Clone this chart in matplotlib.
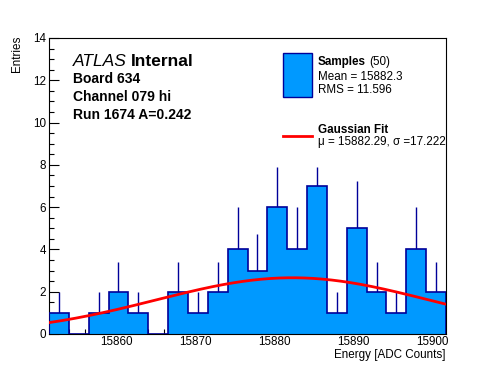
import numpy as np
import matplotlib
matplotlib.use("Agg")
import matplotlib.pyplot as plt
from matplotlib.ticker import MultipleLocator
from matplotlib.patches import Rectangle
from matplotlib.lines import Line2D

# --------------------------
# Data
# --------------------------
bin_lo = 15851.5
bin_width = 2.51
counts = [1, 0, 1, 2, 1, 0, 2, 1, 2, 4, 3, 6, 4, 7, 1, 5, 2, 1, 4, 2]
# top end of each error bar as drawn (0 = no bar)
err_top = [2, 0, 2, 3.4, 2, 0, 3.4, 2, 3.4, 6, 4.73, 7.9, 6, 7.9, 2, 7.25, 3.4, 2, 6, 3.4]

fit_mu = 15882.29
fit_sigma = 17.222
fit_amp = 2.66

info_lines = ["Board 634", "Channel 079 hi", "Run 1674 A=0.242"]
stats_lines = ["Mean = 15882.3", "RMS = 11.596"]
fit_label = "\u03bc = 15882.29, \u03c3 =17.222"

fill_col = "#0099ff"
edge_col = "#000099"

plt.rcParams['font.family'] = ['Liberation Sans', 'DejaVu Sans']

counts = np.array(counts, dtype=float)
err_top = np.array(err_top, dtype=float)
edges = bin_lo + bin_width * np.arange(len(counts) + 1)
centers = 0.5 * (edges[:-1] + edges[1:])

fig = plt.figure(figsize=(4.96, 3.72), dpi=100)
ax = fig.add_axes([49/496, 38/372, 397/496, 296/372])

# error bars sit behind the filled histogram, so only the upper part shows
nz = counts > 0
ax.vlines(centers[nz], 0, err_top[nz], color=edge_col, lw=1, zorder=1)
ax.stairs(counts, edges, fill=True, color=fill_col, zorder=2)
ax.stairs(counts, edges, color=edge_col, lw=1.2, zorder=3)

# gaussian fit
xs = np.linspace(edges[0], edges[-1], 300)
ax.plot(xs, fit_amp * np.exp(-0.5 * ((xs - fit_mu) / fit_sigma) ** 2),
        color='red', lw=2, zorder=4)

ax.set_xlim(edges[0], edges[-1])
ax.set_ylim(0, 14)
ax.xaxis.set_major_locator(MultipleLocator(10))
ax.xaxis.set_minor_locator(MultipleLocator(2))
ax.yaxis.set_major_locator(MultipleLocator(2))
ax.yaxis.set_minor_locator(MultipleLocator(0.5))
ax.tick_params(which='both', direction='in', labelsize=8.4, top=False, right=False, width=0.8)
ax.tick_params(which='major', length=7)
ax.tick_params(which='minor', length=3.5)
ax.tick_params(axis='x', pad=1.5)
ax.tick_params(axis='y', pad=2)
for s in ax.spines.values():
    s.set_linewidth(0.8)

fig.text(446/496, (372-358)/372, "Energy [ADC Counts]", ha='right', va='baseline', fontsize=8.4)
fig.text(17/496, (372-36)/372, "Entries", rotation=90, ha='center', va='top', fontsize=8.4)

# ATLAS label and run info
ax.text(0.0605, 0.907, "ATLAS", style='italic', fontsize=12.5, transform=ax.transAxes, va='baseline')
ax.text(0.205, 0.907, "Internal", weight='bold', fontsize=12.5, transform=ax.transAxes, va='baseline')
for i, line in enumerate(info_lines):
    ax.text(0.0605, 0.849 - i * 0.062, line, weight='bold', fontsize=10,
            transform=ax.transAxes, va='baseline')

# legend drawn by hand, ROOT style
ax.add_patch(Rectangle((0.590, 0.802), 0.072, 0.146, transform=ax.transAxes,
                       facecolor=fill_col, edgecolor=edge_col, lw=1, zorder=5))
t_samp = ax.text(0.677, 0.909, "Samples", weight='bold', fontsize=8.4,
                 transform=ax.transAxes, va='baseline')
fig.canvas.draw()
bb = t_samp.get_window_extent().transformed(ax.transAxes.inverted())
ax.text(bb.x1 + 0.008, 0.909, "(50)", fontsize=8.4, transform=ax.transAxes, va='baseline')
for i, line in enumerate(stats_lines):
    ax.text(0.677, 0.858 - i * 0.045, line, fontsize=8.4, transform=ax.transAxes, va='baseline')

ax.add_line(Line2D([0.590, 0.662], [0.669, 0.669], transform=ax.transAxes, color='red', lw=2))
ax.text(0.677, 0.679, "Gaussian Fit", weight='bold', fontsize=8.4, transform=ax.transAxes, va='baseline')
ax.text(0.677, 0.639, fit_label, fontsize=8.4, transform=ax.transAxes, va='baseline', clip_on=False)

fig.savefig("out.png", dpi=100)
